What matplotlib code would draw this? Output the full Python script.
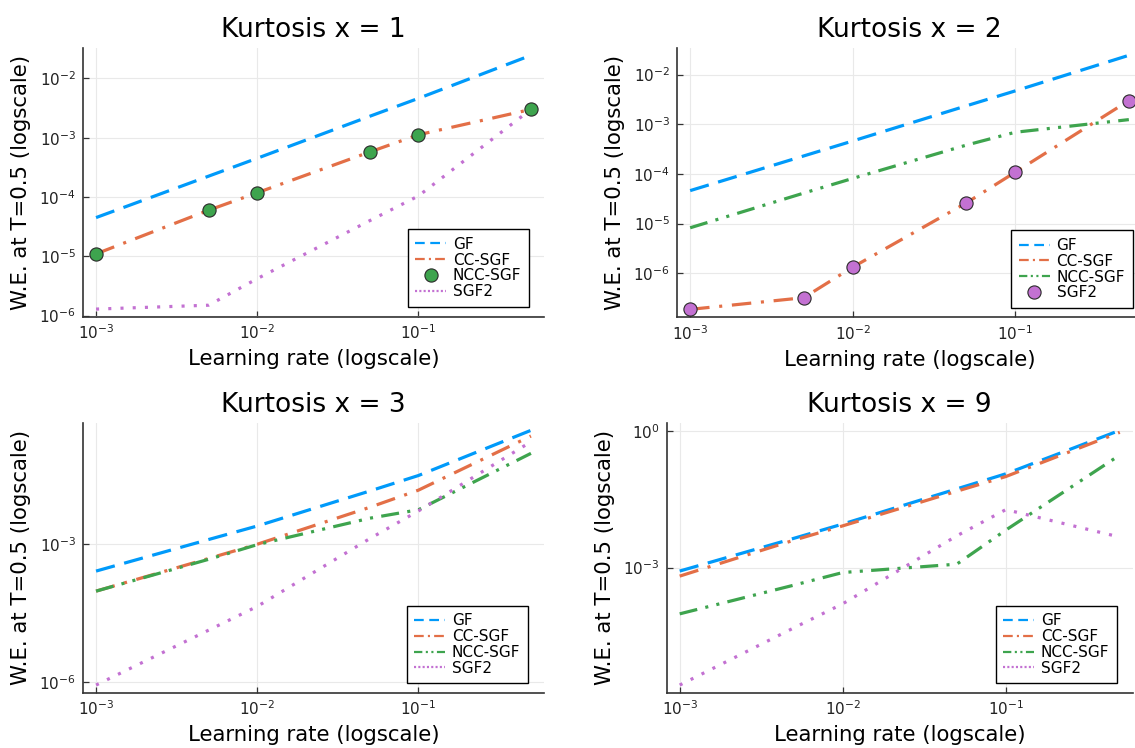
import numpy as np
import matplotlib
matplotlib.use("Agg")
import matplotlib.pyplot as plt
from matplotlib.lines import Line2D
from matplotlib.ticker import NullLocator

plt.rcParams['font.family'] = ['DejaVu Sans']
plt.rcParams['mathtext.default'] = 'regular'
plt.rcParams['lines.scale_dashes'] = False

# ---------------- data ----------------
lr = [0.001, 0.005, 0.01, 0.05, 0.1, 0.5]
titles = ["Kurtosis x = 1", "Kurtosis x = 2", "Kurtosis x = 3", "Kurtosis x = 9"]
series_names = ["GF", "CC-SGF", "NCC-SGF", "SGF2"]

gf_1 = [4.5e-5, 2.25e-4, 4.5e-4, 2.3e-3, 4.6e-3, 2.45e-2]
cc_1 = [1.1e-5, 6.0e-5, 1.18e-4, 5.75e-4, 1.12e-3, 3.0e-3]
ncc_1 = [1.1e-5, 6.0e-5, 1.18e-4, 5.8e-4, 1.13e-3, 3.0e-3]
sgf2_1 = [1.29e-6, 1.5e-6, 4.2e-6, 4.0e-5, 1.04e-4, 3.0e-3]

gf_2 = [4.6e-5, 2.3e-4, 4.6e-4, 2.35e-3, 4.7e-3, 2.45e-2]
cc_2 = [1.86e-7, 3.2e-7, 1.32e-6, 2.6e-5, 1.08e-4, 3.0e-3]
ncc_2 = [8.2e-6, 4.1e-5, 8.1e-5, 3.8e-4, 6.9e-4, 1.24e-3]
sgf2_2 = [1.86e-7, 3.2e-7, 1.32e-6, 2.6e-5, 1.08e-4, 3.0e-3]

gf_3 = [2.6e-4, 1.27e-3, 2.5e-3, 1.45e-2, 3.15e-2, 3.05e-1]
cc_3 = [9.5e-5, 4.9e-4, 1.0e-3, 6.4e-3, 1.51e-2, 2.29e-1]
ncc_3 = [9.5e-5, 4.7e-4, 9.8e-4, 3.7e-3, 5.65e-3, 9.6e-2]
sgf2_3 = [8.5e-7, 1.34e-5, 4.4e-5, 1.33e-3, 5.3e-3, 1.72e-1]

gf_4 = [8.4e-4, 4.4e-3, 9.1e-3, 5.4e-2, 1.16e-1, 1.05]
cc_4 = [6.5e-4, 4.0e-3, 8.3e-3, 4.8e-2, 1.01e-1, 0.95]
ncc_4 = [9.6e-5, 4.1e-4, 7.8e-4, 1.19e-3, 6.7e-3, 0.30]
sgf2_4 = [2.6e-6, 4.7e-5, 1.6e-4, 5.0e-3, 1.89e-2, 4.7e-3]

panel_data = [
    [gf_1, cc_1, ncc_1, sgf2_1],
    [gf_2, cc_2, ncc_2, sgf2_2],
    [gf_3, cc_3, ncc_3, sgf2_3],
    [gf_4, cc_4, ncc_4, sgf2_4],
]
scatter_series = ["NCC-SGF", "SGF2", None, None]   # series drawn as markers per panel

xticks = [1e-3, 1e-2, 1e-1]
yticks_list = [
    [1e-6, 1e-5, 1e-4, 1e-3, 1e-2],
    [1e-6, 1e-5, 1e-4, 1e-3, 1e-2],
    [1e-6, 1e-3],
    [1e-3, 1e0],
]
xlabel = "Learning rate (logscale)"
ylabel = "W.E. at T=0.5 (logscale)"

# ---------------- styles ----------------
colors = {"GF": "#009AFA", "CC-SGF": "#E36F47", "NCC-SGF": "#3EA44E", "SGF2": "#C371D2"}
dash_pat = {"GF": (14, 7), "CC-SGF": (14, 7, 2.2, 7),
            "NCC-SGF": (13, 6, 2.2, 6, 2.2, 6), "SGF2": (2.2, 6.6)}
leg_dash = {"GF": (7, 4), "CC-SGF": (7, 3, 1.5, 3),
            "NCC-SGF": (6, 2.5, 1.5, 2.5, 1.5, 2.5), "SGF2": (1.5, 1.6)}

W, H = 1135, 748
fig = plt.figure(figsize=(W / 100, H / 100), dpi=100)

# axes rectangles in pixels: left, top, right, bottom
rects = [
    (83, 47.7, 544, 316.7),
    (677, 47.7, 1142, 317),
    (83, 422.7, 544, 692.7),
    (666.5, 422.7, 1133, 692.7),
]
leg_pads = [(15, 10), (9.3, 9), (16, 9.4), (16, 9.4)]
spine_col = "#333333"

for i in range(4):
    l, t, r, b = rects[i]
    ax = fig.add_axes([l / W, 1 - b / H, (r - l) / W, (b - t) / H])
    ax.set_xscale("log")
    ax.set_yscale("log")
    handles = []
    for name, vals in zip(series_names, panel_data[i]):
        c = colors[name]
        if scatter_series[i] == name:
            ax.plot(lr, vals, linestyle="none", marker="o", ms=9.5,
                    mfc=c, mec="#2a2a2a", mew=0.8, zorder=3)
            handles.append(Line2D([], [], linestyle="none", marker="o", ms=9.5,
                                  mfc=c, mec="#2a2a2a", mew=0.8))
        else:
            ax.plot(lr, vals, color=c, lw=2.3, dashes=dash_pat[name],
                    dash_capstyle="butt", zorder=2)
            handles.append(Line2D([], [], color=c, lw=1.6, dashes=leg_dash[name]))

    allv = np.log10(np.concatenate([np.asarray(v) for v in panel_data[i]]))
    lx = np.log10(lr)
    dx = 0.03 * (lx.max() - lx.min())
    dy = 0.03 * (allv.max() - allv.min())
    ax.set_xticks(xticks)
    ax.set_yticks(yticks_list[i])
    ax.xaxis.set_minor_locator(NullLocator())
    ax.yaxis.set_minor_locator(NullLocator())
    ax.set_xlim(10 ** (lx.min() - dx), 10 ** (lx.max() + dx))
    ax.set_ylim(10 ** (allv.min() - dy), 10 ** (allv.max() + dy))

    ax.grid(True, which="major", color="#e9e9e9", lw=0.8)
    ax.set_axisbelow(True)
    for s in ["top", "right"]:
        ax.spines[s].set_visible(False)
    for s in ["left", "bottom"]:
        ax.spines[s].set_color(spine_col)
        ax.spines[s].set_linewidth(1.2)
    ax.tick_params(which="major", direction="in", length=4, width=0.9,
                   color=spine_col, labelsize=11, pad=5, labelcolor="#222222")

    ax.set_title(titles[i], fontsize=19, pad=8)
    ax.set_xlabel(xlabel, fontsize=15.3, labelpad=5)
    ax.set_ylabel(ylabel, fontsize=15.3, labelpad=6)

    pr, pb = leg_pads[i]
    leg = ax.legend(handles, series_names, loc="lower right",
                    bbox_to_anchor=(1 - pr / (r - l), pb / (b - t)),
                    borderaxespad=0, fontsize=11, frameon=True, fancybox=False,
                    framealpha=1, edgecolor="black", handlelength=2.0,
                    handletextpad=0.45, labelspacing=0.05, borderpad=0.5)
    leg.get_frame().set_linewidth(1.0)

fig.savefig("out.png", dpi=100)
